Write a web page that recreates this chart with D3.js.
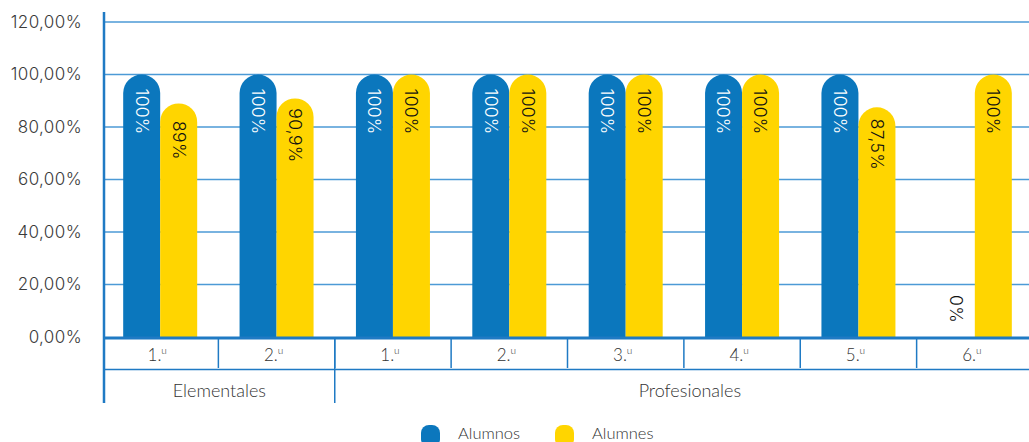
<!DOCTYPE html>
<html><head><meta charset="utf-8">
<script src="https://cdn.jsdelivr.net/npm/d3@7"></script>
<style>body{margin:0;background:#fff;}svg{display:block;}</style>
</head><body><svg id="c" width="1029" height="442"></svg>
<script>
const categories = ["1.", "2.", "1.", "2.", "3.", "4.", "5.", "6."];
const groups = ["Elementales", "Profesionales"];
const groupSpans = [[0, 1], [2, 7]];
const seriesNames = ["Alumnos", "Alumnes"];
const alumnos = [100, 100, 100, 100, 100, 100, 100, 0];
const alumnes = [89, 90.9, 100, 100, 100, 100, 87.5, 100];
const yTicks = [0, 20, 40, 60, 80, 100, 120];

const colors = ["#0b77bd", "#ffd500"];
const gridColor = "#4c9ad6";
const axisColor = "#1f7ac4";
const numFont = "Inter, 'Open Sans', sans-serif";
const txtFont = "Lato, sans-serif";

const svg = d3.select("#c");
const x = d3.scaleBand().domain(d3.range(categories.length)).range([102, 1033]);
const y = d3.scaleLinear().domain([0, 120]).range([337, 22]);
const left = 104, right = 1029;
const bw = 37;

// gridlines
svg.append("g").selectAll("line").data(yTicks.filter(d => d > 0)).join("line")
  .attr("x1", left).attr("x2", right).attr("y1", d => y(d)).attr("y2", d => y(d))
  .attr("stroke", gridColor).attr("stroke-width", 1.5);

// y tick labels
const fmt = d => d3.format(".2f")(d).replace(".", ",") + "%";
svg.append("g").selectAll("text").data(yTicks).join("text")
  .attr("x", 82).attr("y", d => y(d)).attr("dy", "0.35em")
  .attr("text-anchor", "end").attr("font-family", numFont).attr("font-size", 17)
  .attr("font-weight", 300).attr("letter-spacing", 0.4)
  .attr("fill", "#3a3a3a").text(fmt);

// bars
function barPath(x0, w, v) {
  const top = y(v), bot = y(0), r = w / 2;
  return `M${x0},${bot}V${top + r}A${r},${r} 0 0 1 ${x0 + w},${top + r}V${bot}Z`;
}
const series = [alumnos, alumnes];
const lbl = v => String(v).replace(".", ",") + "%";
series.forEach((vals, s) => {
  const g = svg.append("g");
  vals.forEach((v, i) => {
    const cx = x(i) + x.bandwidth() / 2;
    const x0 = s === 0 ? cx - bw : cx;
    if (v > 0) g.append("path").attr("d", barPath(x0, bw, v)).attr("fill", colors[s]);
    const mx = x0 + bw / 2;
    const my = v > 0 ? y(v) + 37 : y(0) - 28;
    g.append("text").attr("transform", `translate(${mx},${my}) rotate(90)`)
      .attr("text-anchor", "middle").attr("dy", "0.35em")
      .attr("font-family", numFont).attr("font-size", 17.5).attr("font-weight", 300)
      .attr("letter-spacing", 0.3)
      .attr("fill", (s === 0 && v > 0) ? "#ffffff" : "#111").text(lbl(v));
  });
});

// left axis line
svg.append("line").attr("x1", left).attr("x2", left).attr("y1", 12).attr("y2", 403)
  .attr("stroke", axisColor).attr("stroke-width", 2.5);
// bottom axis
svg.append("line").attr("x1", left).attr("x2", right).attr("y1", 338).attr("y2", 338)
  .attr("stroke", axisColor).attr("stroke-width", 3);
// table row line
svg.append("line").attr("x1", left).attr("x2", right).attr("y1", 369.5).attr("y2", 369.5)
  .attr("stroke", axisColor).attr("stroke-width", 1.5);
// category separators
svg.append("g").selectAll("line").data(d3.range(1, categories.length)).join("line")
  .attr("x1", d => x(d)).attr("x2", d => x(d)).attr("y1", 339).attr("y2", 368)
  .attr("stroke", axisColor).attr("stroke-width", 1.5);
// group separators
svg.append("g").selectAll("line").data(groupSpans.slice(1)).join("line")
  .attr("x1", d => x(d[0])).attr("x2", d => x(d[0])).attr("y1", 339).attr("y2", 403)
  .attr("stroke", axisColor).attr("stroke-width", 1.5);

// category labels
const ct = svg.append("g").selectAll("text").data(categories).join("text")
  .attr("x", (d, i) => x(i) + x.bandwidth() / 2 - 3).attr("y", 361)
  .attr("text-anchor", "middle").attr("font-family", txtFont).attr("font-size", 17)
  .attr("font-weight", 300).attr("fill", "#333");
ct.append("tspan").text(d => d);
ct.append("tspan").attr("dy", -7).attr("font-size", 10).text("u");

// group labels
svg.append("g").selectAll("text").data(groups).join("text")
  .attr("x", (d, i) => {
    const a = i === 0 ? left : x(groupSpans[i][0]);
    const b = x(groupSpans[i][1]) + x.bandwidth();
    return (a + b) / 2 + (i === 1 ? 6 : 0);
  })
  .attr("y", 397).attr("text-anchor", "middle").attr("font-family", txtFont)
  .attr("font-size", 18).attr("font-weight", 300).attr("fill", "#333").text(d => d);

// legend
const lg = svg.append("g");
const legX = [421, 555];
seriesNames.forEach((n, i) => {
  lg.append("rect").attr("x", legX[i]).attr("y", 425).attr("width", 19).attr("height", 22)
    .attr("rx", 8).attr("fill", colors[i]);
  lg.append("text").attr("x", legX[i] + 37).attr("y", 439).attr("font-family", txtFont)
    .attr("font-size", 16.5).attr("font-weight", 300).attr("fill", "#333").text(n);
});
</script></body></html>
